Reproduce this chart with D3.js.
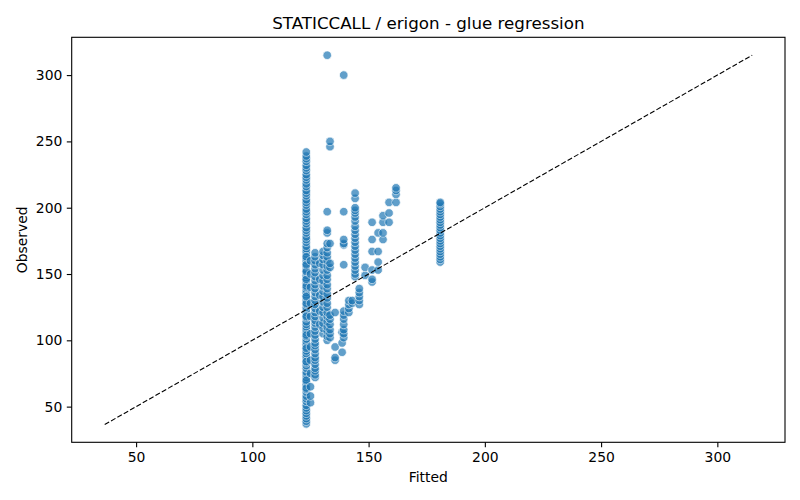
<!DOCTYPE html>
<html>
<head lang="en">
    <meta charset="UTF-8">
    <title>STATICCALL / erigon - glue regression</title>
    <script type="text/javascript" src="https://cdn.jsdelivr.net/npm/d3@7/dist/d3.min.js"></script>
    <style>
        body { margin: 0; background: #fff; }
        text { font-family: "DejaVu Sans", sans-serif; }
    </style>
</head>
<body>
<svg width="800" height="500"></svg>

<script>
    var fittedLevels = [123.2, 125.0, 127.0, 129.0, 130.4, 132.2, 133.4, 135.6, 138.6, 139.3,
        141.5, 143.0, 144.2, 146.0, 148.5, 151.5, 154.1, 156.2, 158.8, 161.8, 180.8];

    var observedByLevel = [
        // 123.2
        [37, 39, 41, 43, 45, 47, 49, 51, 54, 56, 58, 61, 63, 66, 67, 69, 72, 74, 76, 79, 81, 83, 86, 88,
            90, 92, 95, 97, 99, 101, 103, 106, 108, 110, 112, 114, 117, 119, 121, 123, 125, 127, 130, 132,
            134, 136, 138, 140, 143, 145, 147, 149, 151, 153, 156, 158, 160, 162, 165, 167, 169, 171, 174,
            176, 178, 181, 183, 185, 188, 190, 192, 195, 197, 199, 202, 204, 206, 209, 211, 213, 216, 218,
            221, 223, 225, 228, 230, 232, 235, 237, 239, 242,
            64, 70, 84, 94, 104, 118, 128, 133, 141, 146, 152, 157, 163],
        // 125.0
        [53, 58, 65, 75, 85, 95, 105, 118, 128, 140, 150, 160],
        // 127.0
        [72, 74, 77, 79, 82, 85, 87, 90, 93, 96, 98, 101, 104, 107, 110, 113, 115, 118, 121, 124, 127,
            130, 133, 136, 139, 142, 145, 148, 151, 154, 157, 160, 163, 166],
        // 129.0
        [112, 122, 134, 146, 158],
        // 130.4
        [105, 109, 113, 117, 121, 125, 129, 133, 137, 141, 145, 149, 153, 157, 161, 164, 167],
        // 132.2
        [100, 103, 107, 110, 114, 118, 121, 125, 128, 132, 135, 139, 142, 146, 149, 153, 156, 160, 163,
            166, 170, 173, 181, 183, 197, 315],
        // 133.4
        [102, 105, 108, 112, 116, 119, 155, 158, 173, 246, 250],
        // 135.6
        [85, 87, 95, 121],
        // 138.6
        [91, 98, 106],
        // 139.3
        [102, 105, 108, 112, 116, 119, 122, 157, 172, 173, 176, 197, 300],
        // 141.5
        [121, 124, 127, 130],
        // 143.0
        [128, 130],
        // 144.2
        [148, 150, 153, 156, 159, 162, 165, 168, 171, 174, 177, 180, 183, 186, 190, 193, 196, 198, 200,
            207, 211],
        // 146.0
        [127, 130, 133, 136, 139],
        // 148.5
        [149, 155],
        // 151.5
        [144, 146, 153, 167, 176, 189],
        // 154.1
        [153, 159, 167, 181],
        // 156.2
        [176, 181, 189, 194],
        // 158.8
        [189, 196, 204],
        // 161.8
        [204, 210, 213, 215],
        // 180.8
        [159, 161, 163, 165, 167, 169, 171, 173, 175, 177, 179, 181, 183, 185, 187, 189, 191, 193, 195,
            197, 199, 201, 203, 204]
    ];

    var fitLine = [36.5, 315];
    var xTicks = [50, 100, 150, 200, 250, 300];
    var yTicks = [50, 100, 150, 200, 250, 300];

    var svg = d3.select("svg");
    var plotL = 71.7, plotR = 785, plotT = 37.3, plotB = 442.3;

    var x = d3.scaleLinear().domain([22.3, 329.1]).range([plotL, plotR]);
    var y = d3.scaleLinear().domain([23.1, 328.5]).range([plotB, plotT]);

    var points = [];
    fittedLevels.forEach(function (f, i) {
        observedByLevel[i].forEach(function (o) {
            points.push({fitted: f, observed: o});
        });
    });

    svg.append("defs").append("clipPath").attr("id", "plot")
        .append("rect")
        .attr("x", plotL).attr("y", plotT)
        .attr("width", plotR - plotL).attr("height", plotB - plotT);

    var plot = svg.append("g").attr("clip-path", "url(#plot)");

    plot.selectAll("circle")
        .data(points)
        .enter().append("circle")
        .attr("cx", function (d) { return x(d.fitted); })
        .attr("cy", function (d) { return y(d.observed); })
        .attr("r", 4.3)
        .style("fill", "#1f77b4")
        .style("stroke", "#fff")
        .style("stroke-width", 0.75)
        .style("opacity", 0.7);

    plot.append("line")
        .attr("x1", x(fitLine[0])).attr("y1", y(fitLine[0]))
        .attr("x2", x(fitLine[1])).attr("y2", y(fitLine[1]))
        .style("stroke", "#000")
        .style("stroke-width", 1.1)
        .style("stroke-dasharray", "5.1,2.2");

    // axes
    var xAxis = svg.append("g")
        .attr("transform", "translate(0," + plotB + ")")
        .call(d3.axisBottom(x).tickValues(xTicks).tickSize(4.9).tickPadding(4.5).tickSizeOuter(0));
    var yAxis = svg.append("g")
        .attr("transform", "translate(" + plotL + ",0)")
        .call(d3.axisLeft(y).tickValues(yTicks).tickSize(4.9).tickPadding(4.5).tickSizeOuter(0));

    [xAxis, yAxis].forEach(function (a) {
        a.select(".domain").remove();
        a.selectAll(".tick line").style("stroke", "#000").style("stroke-width", 1.1);
        a.selectAll(".tick text")
            .style("font-family", "DejaVu Sans, sans-serif")
            .style("font-size", "13.9px")
            .style("fill", "#000");
    });

    svg.append("rect")
        .attr("x", plotL).attr("y", plotT)
        .attr("width", plotR - plotL).attr("height", plotB - plotT)
        .style("fill", "none")
        .style("stroke", "#000")
        .style("stroke-width", 1.1);

    svg.append("text")
        .attr("x", (plotL + plotR) / 2).attr("y", 29)
        .attr("text-anchor", "middle")
        .style("font-size", "16.7px")
        .text("STATICCALL / erigon - glue regression");

    svg.append("text")
        .attr("x", (plotL + plotR) / 2).attr("y", 482)
        .attr("text-anchor", "middle")
        .style("font-size", "13.9px")
        .text("Fitted");

    svg.append("text")
        .attr("transform", "translate(27," + (plotT + plotB) / 2 + ") rotate(-90)")
        .attr("text-anchor", "middle")
        .style("font-size", "13.9px")
        .text("Observed");
</script>
</body>
</html>
